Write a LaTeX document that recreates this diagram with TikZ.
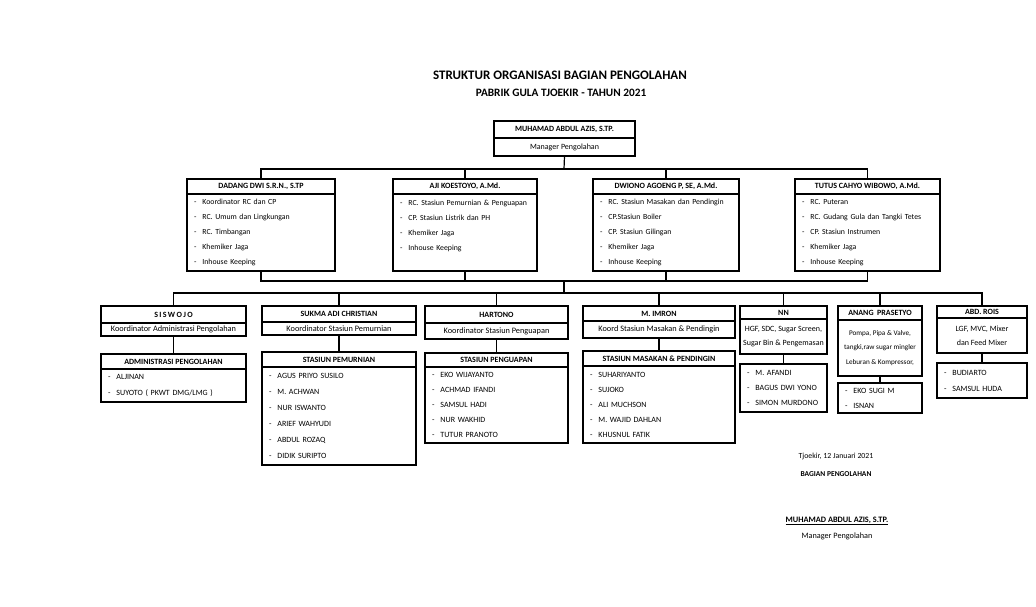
\documentclass[tikz,border=0pt]{standalone}
\usepackage{fontspec}
\setmainfont{Carlito}
\usetikzlibrary{positioning}
\tikzset{>=stealth,
  garis/.style={line width=1.2pt},
  kotak/.style={draw, line width=1.2pt, inner sep=0pt, outer sep=0pt, align=center},
  nama/.style={kotak, font=\bfseries\fontsize{8}{9}\selectfont},
  jabatan/.style={kotak, font=\fontsize{8}{14}\selectfont},
  daftar/.style={kotak, align=left, inner xsep=7pt, font=\fontsize{7.8}{15}\selectfont}}

\begin{document}
\begin{tikzpicture}[x=1pt, y=-1pt]
\useasboundingbox[fill=white] (0,0) rectangle (1036,606);
% judul
\node[font=\bfseries\fontsize{13}{15}\selectfont] (judul) at (560,75) {STRUKTUR ORGANISASI BAGIAN PENGOLAHAN};
\node[font=\bfseries\fontsize{11.3}{13}\selectfont] (subjudul) at (561,93) {PABRIK GULA TJOEKIR - TAHUN 2021};
% manajer
\node[nama, anchor=north west, minimum width=141pt, minimum height=17pt] (muhamad) at (494,121) {MUHAMAD ABDUL AZIS, S.TP.};
\node[jabatan, below=0pt of muhamad, minimum width=141pt, minimum height=18pt] (manajer) {Manager Pengolahan};
% baris kedua
\node[nama, anchor=north west, minimum width=148pt, minimum height=15pt] (dadang) at (187,179) {DADANG DWI S.R.N., S.TP};
\node[daftar, below=0pt of dadang, text width=134pt, minimum height=77pt] (dadangL) {-\hspace{6pt}Koordinator RC dan CP\\-\hspace{6pt}RC. Umum dan Lingkungan\\-\hspace{6pt}RC. Timbangan\\-\hspace{6pt}Khemiker Jaga\\-\hspace{6pt}Inhouse Keeping};
\node[nama, anchor=north west, minimum width=144pt, minimum height=15pt] (aji) at (393,179) {AJI KOESTOYO, A.Md.};
\node[daftar, below=0pt of aji, text width=130pt, minimum height=77pt] (ajiL) {-\hspace{6pt}RC. Stasiun Pemurnian \& Penguapan\\-\hspace{6pt}CP. Stasiun Listrik dan PH\\-\hspace{6pt}Khemiker Jaga\\-\hspace{6pt}Inhouse Keeping\\~};
\node[nama, anchor=north west, minimum width=146pt, minimum height=15pt] (dwiono) at (593,179) {DWIONO AGOENG P, SE, A.Md.};
\node[daftar, below=0pt of dwiono, text width=132pt, minimum height=77pt] (dwionoL) {-\hspace{6pt}RC. Stasiun Masakan dan Pendingin\\-\hspace{6pt}CP.Stasiun Boiler\\-\hspace{6pt}CP. Stasiun Gilingan\\-\hspace{6pt}Khemiker Jaga\\-\hspace{6pt}Inhouse Keeping};
\node[nama, anchor=north west, minimum width=145pt, minimum height=15pt] (tutus) at (795,179) {TUTUS CAHYO WIBOWO, A.Md.};
\node[daftar, below=0pt of tutus, text width=131pt, minimum height=77pt] (tutusL) {-\hspace{6pt}RC. Puteran\\-\hspace{6pt}RC. Gudang Gula dan Tangki Tetes\\-\hspace{6pt}CP. Stasiun Instrumen\\-\hspace{6pt}Khemiker Jaga\\-\hspace{6pt}Inhouse Keeping};
% baris ketiga
\node[nama, anchor=north west, minimum width=145pt, minimum height=17pt] (siswojo) at (101,306) {S\,I\,S\,W\,O\,J\,O};
\node[jabatan, below=0pt of siswojo, minimum width=145pt, minimum height=13pt, font=\fontsize{8.3}{10}\selectfont] (siswojoL) {Koordinator Administrasi Pengolahan};
\node[nama, below=18pt of siswojoL, minimum width=145pt, minimum height=15pt] (administrasi) {ADMINISTRASI PENGOLAHAN};
\node[daftar, below=0pt of administrasi, text width=131pt, minimum height=33pt, font=\fontsize{8}{16}\selectfont] (administrasiL) {-\hspace{6pt}ALJINAN\\-\hspace{6pt}SUYOTO ( PKWT DMG/LMG )};
\node[nama, anchor=north west, minimum width=154pt, minimum height=16pt] (sukma) at (262,306) {SUKMA ADI CHRISTIAN};
\node[jabatan, below=0pt of sukma, minimum width=154pt, minimum height=13pt, font=\fontsize{8.3}{10}\selectfont] (sukmaL) {Koordinator Stasiun Pemurnian};
\node[nama, below=17pt of sukmaL, minimum width=154pt, minimum height=15pt] (pemurnian) {STASIUN PEMURNIAN};
\node[daftar, below=0pt of pemurnian, text width=140pt, minimum height=98pt, font=\fontsize{8}{16}\selectfont] (pemurnianL) {-\hspace{6pt}AGUS PRIYO SUSILO\\-\hspace{6pt}M. ACHWAN\\-\hspace{6pt}NUR ISWANTO\\-\hspace{6pt}ARIEF WAHYUDI\\-\hspace{6pt}ABDUL ROZAQ\\-\hspace{6pt}DIDIK SURIPTO};
\node[nama, anchor=north west, minimum width=143pt, minimum height=17pt] (hartono) at (425,306) {HARTONO};
\node[jabatan, below=0pt of hartono, minimum width=143pt, minimum height=16pt, font=\fontsize{8.3}{10}\selectfont] (hartonoL) {Koordinator Stasiun Penguapan};
\node[nama, below=14pt of hartonoL, minimum width=143pt, minimum height=14pt] (penguapan) {STASIUN PENGUAPAN};
\node[daftar, below=0pt of penguapan, text width=129pt, minimum height=76pt, font=\fontsize{8}{15}\selectfont] (penguapanL) {-\hspace{6pt}EKO WIJAYANTO\\-\hspace{6pt}ACHMAD IFANDI\\-\hspace{6pt}SAMSUL HADI\\-\hspace{6pt}NUR WAKHID\\-\hspace{6pt}TUTUR PRANOTO};
\node[nama, anchor=north west, minimum width=152pt, minimum height=15pt] (imron) at (583,306) {M. IMRON};
\node[jabatan, below=0pt of imron, minimum width=152pt, minimum height=17pt, font=\fontsize{8.3}{10}\selectfont] (imronL) {Koord Stasiun Masakan \& Pendingin};
\node[nama, below=13pt of imronL, minimum width=152pt, minimum height=15pt] (masakan) {STASIUN MASAKAN \& PENDINGIN};
\node[daftar, below=0pt of masakan, text width=138pt, minimum height=77pt, font=\fontsize{8}{15}\selectfont] (masakanL) {-\hspace{6pt}SUHARIYANTO\\-\hspace{6pt}SUJOKO\\-\hspace{6pt}ALI MUCHSON\\-\hspace{6pt}M. WAJID DAHLAN\\-\hspace{6pt}KHUSNUL FATIK};
\node[nama, anchor=north west, minimum width=87pt, minimum height=13pt] (nn) at (740,306) {NN};
\node[jabatan, below=0pt of nn, minimum width=87pt, minimum height=35pt] (nnL) {HGF, SDC, Sugar Screen,\\Sugar Bin \& Pengemasan};
\node[daftar, below=10pt of nnL, text width=73pt, minimum height=48pt, font=\fontsize{8}{15}\selectfont] (nnS) {-\hspace{6pt}M. AFANDI\\-\hspace{6pt}BAGUS DWI YONO\\-\hspace{6pt}SIMON MURDONO};
\node[nama, anchor=north west, minimum width=84pt, minimum height=14pt] (anang) at (838,306) {ANANG\ \ PRASETYO};
\node[jabatan, below=0pt of anang, minimum width=84pt, minimum height=56pt, font=\fontsize{7.2}{14.5}\selectfont] (anangL) {Pompa, Pipa \& Valve,\\tangki,raw sugar mingler\\Leburan \& Kompressor,};
\node[daftar, below=7pt of anangL, text width=70pt, minimum height=30pt, font=\fontsize{8}{15}\selectfont] (anangS) {-\hspace{6pt}EKO SUGI M\\-\hspace{6pt}ISNAN};
\node[nama, anchor=north west, minimum width=90pt, minimum height=12pt] (rois) at (937,306) {ABD. ROIS};
\node[jabatan, below=0pt of rois, minimum width=90pt, minimum height=35pt] (roisL) {LGF, MVC, Mixer\\dan Feed Mixer};
\node[daftar, below=10pt of roisL, text width=76pt, minimum height=35pt, font=\fontsize{8}{16}\selectfont] (roisS) {-\hspace{6pt}BUDIARTO\\-\hspace{6pt}SAMSUL HUDA};
% garis penghubung
\coordinate (atas) at (564,169);
\coordinate (tengah1) at (564,281);
\coordinate (tengah2) at (564,293);
\draw[garis] (manajer.south) -- (atas);
\draw[garis] (dadang.north) |- (atas) -| (tutus.north);
\draw[garis] (aji.north) -- (aji.north |- atas);
\draw[garis] (dwiono.north) -- (dwiono.north |- atas);
\draw[garis] (dadangL.south) |- (tengah1) -| (tutusL.south);
\draw[garis] (ajiL.south) -- (ajiL.south |- tengah1);
\draw[garis] (dwionoL.south) -- (dwionoL.south |- tengah1);
\draw[garis] (tengah1) -- (tengah2);
\draw[garis] (siswojo.north) |- (tengah2) -| (rois.north);
\draw[garis] (sukma.north) -- (sukma.north |- tengah2);
\draw[garis] (hartono.north) -- (hartono.north |- tengah2);
\draw[garis] (imron.north) -- (imron.north |- tengah2);
\draw[garis] (nn.north) -- (nn.north |- tengah2);
\draw[garis] (anang.north) -- (anang.north |- tengah2);
\draw[garis] (siswojoL.south) -- (administrasi.north);
\draw[garis] (sukmaL.south) -- (pemurnian.north);
\draw[garis] (hartonoL.south) -- (penguapan.north);
\draw[garis] (imronL.south) -- (masakan.north);
\draw[garis] (nnL.south) -- (nnS.north);
\draw[garis] (anangL.south) -- (anangS.north);
\draw[garis] (roisL.south) -- (roisS.north);
% tanda tangan
\node[font=\fontsize{7.8}{9}\selectfont] (tanggal) at (836,456) {Tjoekir, 12 Januari 2021};
\node[font=\bfseries\fontsize{7.5}{9}\selectfont, below=5pt of tanggal] (bagian) {BAGIAN PENGOLAHAN};
\node[font=\bfseries\fontsize{8.3}{9}\selectfont] (ttd) at (837,521) {\underline{MUHAMAD ABDUL AZIS, S.TP.}};
\node[font=\fontsize{8.2}{9}\selectfont, below=0pt of ttd] (jabatanttd) {Manager Pengolahan};
\end{tikzpicture}
\end{document}
